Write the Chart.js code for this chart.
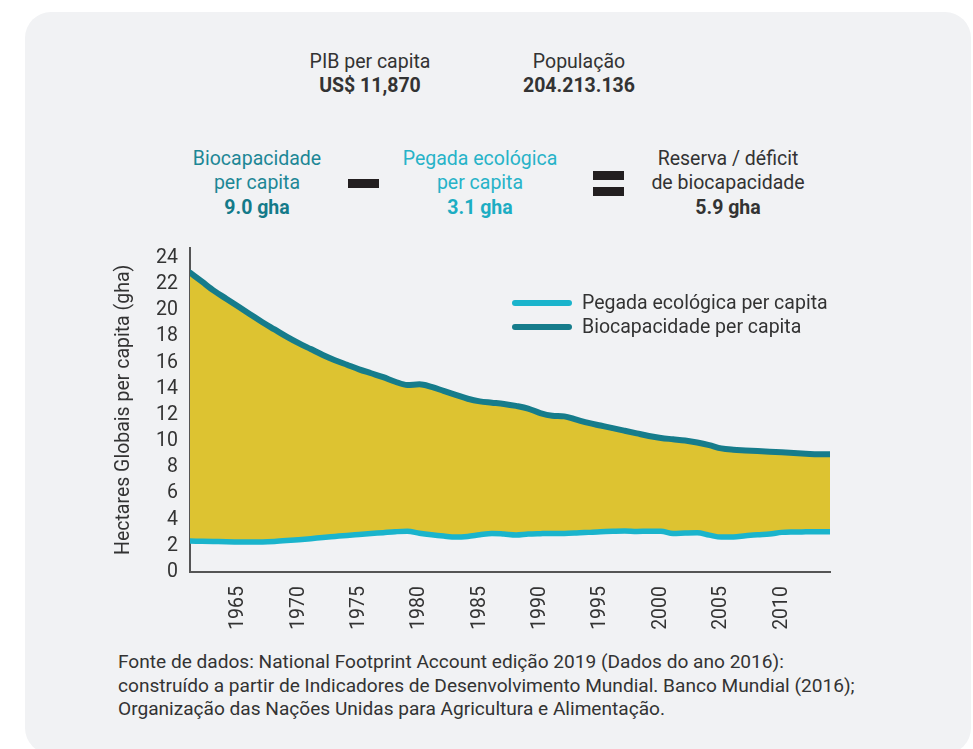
<!DOCTYPE html>
<html>
<head>
<meta charset="utf-8">
<script src="https://cdn.jsdelivr.net/npm/chart.js@4.4.1/dist/chart.umd.min.js"></script>
<style>
  html, body { margin:0; padding:0; }
  body { width:973px; height:749px; overflow:hidden; background:#ffffff; font-family: Roboto, "Open Sans", sans-serif; color:#333; position:relative; }
  #panel { position:absolute; left:25px; top:12px; width:946px; height:742px; background:#f1f2f4; border-radius:26px; }
  .blk { position:absolute; text-align:center; white-space:nowrap; font-size:19.5px; transform:translateX(-50%); }
  .blk b { font-weight:700; }
  .top { top:50px; line-height:24px; color:#333; }
  .mid { top:146.75px; line-height:24.5px; }
  .bar { position:absolute; background:#231f20; }
  #chartWrap { position:absolute; left:100px; top:224px; width:760px; height:420px; }
  #legend { position:absolute; left:512px; top:291px; font-size:19.5px; color:#333; }
  .lg { position:relative; height:24px; line-height:24px; white-space:nowrap; }
  .lg span.sw { position:absolute; left:0; top:9px; width:60px; height:6px; border-radius:3px; }
  .lg span.tx { position:absolute; left:70px; top:0; }
  #source { position:absolute; left:118px; top:650px; font-size:19.1px; line-height:23.5px; color:#333; white-space:nowrap; }
</style>
</head>
<body>
<div id="panel"></div>

<div class="blk top" style="left:370px;">PIB per capita<br><b>US$ 11,870</b></div>
<div class="blk top" style="left:579px;">População<br><b>204.213.136</b></div>

<div class="blk mid" style="left:257px; color:#1d8796;">Biocapacidade<br>per capita<br><b style="color:#147a89;">9.0 gha</b></div>
<div class="bar" style="left:348px; top:179px; width:31px; height:9px;"></div>
<div class="blk mid" style="left:480px; color:#27b3c8;">Pegada ecológica<br>per capita<br><b style="color:#1cadc3;">3.1 gha</b></div>
<div class="bar" style="left:593px; top:171px; width:31px; height:9px;"></div>
<div class="bar" style="left:593px; top:187px; width:31px; height:9px;"></div>
<div class="blk mid" style="left:728px; color:#333;">Reserva / déficit<br>de biocapacidade<br><b>5.9 gha</b></div>

<div id="chartWrap"><canvas id="c" width="760" height="420"></canvas></div>

<div id="legend">
  <div class="lg"><span class="sw" style="background:#1ab4cc;"></span><span class="tx">Pegada ecológica per capita</span></div>
  <div class="lg"><span class="sw" style="background:#167c8b;"></span><span class="tx">Biocapacidade per capita</span></div>
</div>

<div id="source">Fonte de dados: National Footprint Account edição 2019 (Dados do ano 2016):<br>construído a partir de Indicadores de Desenvolvimento Mundial. Banco Mundial (2016);<br>Organização das Nações Unidas para Agricultura e Alimentação.</div>

<script>
const years = [1961,1962,1963,1964,1965,1966,1967,1968,1969,1970,
               1971,1972,1973,1974,1975,1976,1977,1978,1979,1980,
               1981,1982,1983,1984,1985,1986,1987,1988,1989,1990,
               1991,1992,1993,1994,1995,1996,1997,1998,1999,2000,
               2001,2002,2003,2004,2005,2006,2007,2008,2009,2010,
               2011,2012,2013,2014];

const footprint = [2.37,2.35,2.33,2.31,2.30,2.29,2.30,2.34,2.40,2.47,
                   2.55,2.64,2.72,2.80,2.87,2.94,3.01,3.08,3.12,2.97,
                   2.85,2.75,2.67,2.72,2.85,2.95,2.90,2.83,2.90,2.93,
                   2.95,2.95,2.98,3.03,3.08,3.11,3.13,3.10,3.12,3.12,
                   2.95,2.98,3.00,2.82,2.67,2.68,2.77,2.85,2.90,3.03,
                   3.06,3.07,3.08,3.08];

const biocapacity = [22.90,22.20,21.50,20.90,20.30,19.70,19.10,18.55,18.00,17.50,
                     17.05,16.60,16.20,15.85,15.50,15.20,14.90,14.55,14.30,14.35,
                     14.15,13.85,13.55,13.25,13.05,12.95,12.85,12.70,12.50,12.15,
                     11.95,11.90,11.65,11.40,11.20,11.00,10.80,10.60,10.40,10.25,
                     10.15,10.05,9.90,9.70,9.45,9.35,9.30,9.25,9.20,9.15,
                     9.10,9.05,9.00,9.00];

const xTickYears = [1965,1970,1975,1980,1985,1990,1995,2000,2005,2010];
const yTickValues = [0,2,4,6,8,10,12,14,16,18,20,22,24];

const seriesNames = ['Pegada ecológica per capita','Biocapacidade per capita'];
const yAxisTitle = 'Hectares Globais per capita (gha)';

Chart.defaults.font.family = 'Roboto, "Open Sans", sans-serif';
Chart.defaults.color = '#333';

const toPts = (arr) => arr.map((v, i) => ({x: years[i], y: v}));

new Chart(document.getElementById('c'), {
  type: 'line',
  data: {
    datasets: [
      {
        label: seriesNames[0],
        data: toPts(footprint),
        borderColor: '#1ab4cc',
        backgroundColor: '#1ab4cc',
        borderWidth: 5.5,
        pointRadius: 0,
        cubicInterpolationMode: 'monotone',
        borderCapStyle: 'round',
        fill: false
      },
      {
        label: seriesNames[1],
        data: toPts(biocapacity),
        borderColor: '#167c8b',
        backgroundColor: '#ddc331',
        borderWidth: 6,
        pointRadius: 0,
        cubicInterpolationMode: 'monotone',
        borderCapStyle: 'round',
        fill: {target: 0}
      }
    ]
  },
  options: {
    responsive: false,
    animation: false,
    layout: { padding: { left: 0, right: 30, top: 0, bottom: 0 } },
    plugins: {
      legend: { display: false },
      tooltip: { enabled: false }
    },
    scales: {
      x: {
        type: 'linear',
        min: years[0],
        max: years[years.length - 1],
        afterBuildTicks: (s) => { s.ticks = xTickYears.map(v => ({value: v})); },
        afterFit: (s) => { s.height = 72; },
        grid: { display: false, drawTicks: false },
        border: { display: true, color: '#555', width: 2 },
        ticks: {
          minRotation: 90, maxRotation: 90,
          padding: 14,
          color: '#333',
          font: { size: 19.5 },
          callback: (v) => String(v)
        }
      },
      y: {
        type: 'linear',
        min: 0,
        max: 24.8,
        afterBuildTicks: (s) => { s.ticks = yTickValues.map(v => ({value: v})); },
        afterFit: (s) => { s.width = 90; },
        grid: { display: false, drawTicks: false },
        border: { display: true, color: '#555', width: 2 },
        ticks: {
          padding: 12,
          color: '#333',
          font: { size: 19.5 }
        },
        title: {
          display: true,
          text: yAxisTitle,
          color: '#333',
          font: { size: 19.5 },
          padding: { top: 12, bottom: 0 }
        }
      }
    }
  }
});
</script>
</body>
</html>
